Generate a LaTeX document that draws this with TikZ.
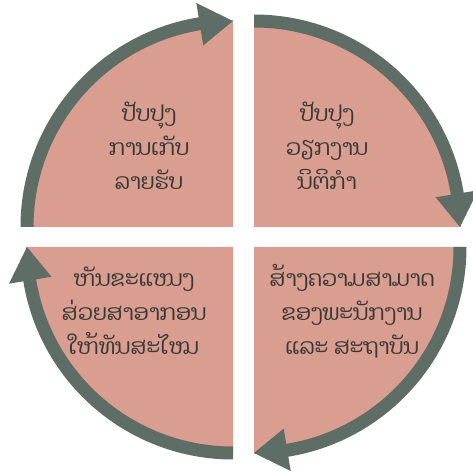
\documentclass[tikz,border=0pt]{standalone}
\usepackage{fontspec}
\usetikzlibrary{calc}
\newfontfamily\laofont[Script=Lao]{Dhyana}
\definecolor{pinkq}{HTML}{D99E8F}
\definecolor{arrowc}{HTML}{5E6E66}
\definecolor{txtc}{HTML}{383838}
\newcommand{\qarrow}[2]{% center, start angle (goes clockwise by 90)
  \pgfmathsetmacro{\qa}{#2}%
  \pgfmathsetmacro{\qb}{#2-90+9.3}%
  \pgfmathsetmacro{\qe}{#2-90}%
  \fill[arrowc] ($(#1)+(\qa:212.5)$) arc[start angle=\qa, end angle=\qb, radius=212.5]
    -- ($(#1)+(\qb:227)$) -- ($(#1)+(\qe:206)$) -- ($(#1)+(\qb:184)$)
    -- ($(#1)+(\qb:199.5)$) arc[start angle=\qb, end angle=\qa, radius=199.5] -- cycle;}
\begin{document}
\begin{tikzpicture}[x=1pt,y=1pt,
  quad/.style={fill=pinkq},
  lbl/.style={text=txtc, align=center, font=\laofont\fontsize{22}{34}\selectfont}]
\useasboundingbox (0,0) rectangle (473,475);
\coordinate (ctl) at (233,248);
\coordinate (ctr) at (254,248);
\coordinate (cbl) at (233,228);
\coordinate (cbr) at (254,228);
\fill[quad] (ctl) -- ($(ctl)+(180:207)$) arc[start angle=180, end angle=90, radius=207] -- cycle;
\fill[quad] (ctr) -- ($(ctr)+(90:207)$) arc[start angle=90, end angle=0, radius=207] -- cycle;
\fill[quad] (cbr) -- ($(cbr)+(0:207)$) arc[start angle=0, end angle=-90, radius=207] -- cycle;
\fill[quad] (cbl) -- ($(cbl)+(270:207)$) arc[start angle=270, end angle=180, radius=207] -- cycle;
\qarrow{ctl}{180}
\qarrow{ctr}{90}
\qarrow{cbr}{0}
\qarrow{cbl}{270}
\node[lbl] (tl) at (149,329) {ປັບປຸງ\\ການເກັບ\\ລາຍຮັບ};
\node[lbl] (tr) at (327,329) {ປັບປຸງ\\ວຽກງານ\\ນິຕິກຳ};
\node[lbl] (bl) at (134,164) {ຫັນຂະແໜງ\\ສ່ວຍສາອາກອນ\\ໃຫ້ທັນສະໄໝ};
\node[lbl] (br) at (352,164) {ສ້າງຄວາມສາມາດ\\ຂອງພະນັກງານ\\ແລະ ສະຖາບັນ};
\end{tikzpicture}
\end{document}
